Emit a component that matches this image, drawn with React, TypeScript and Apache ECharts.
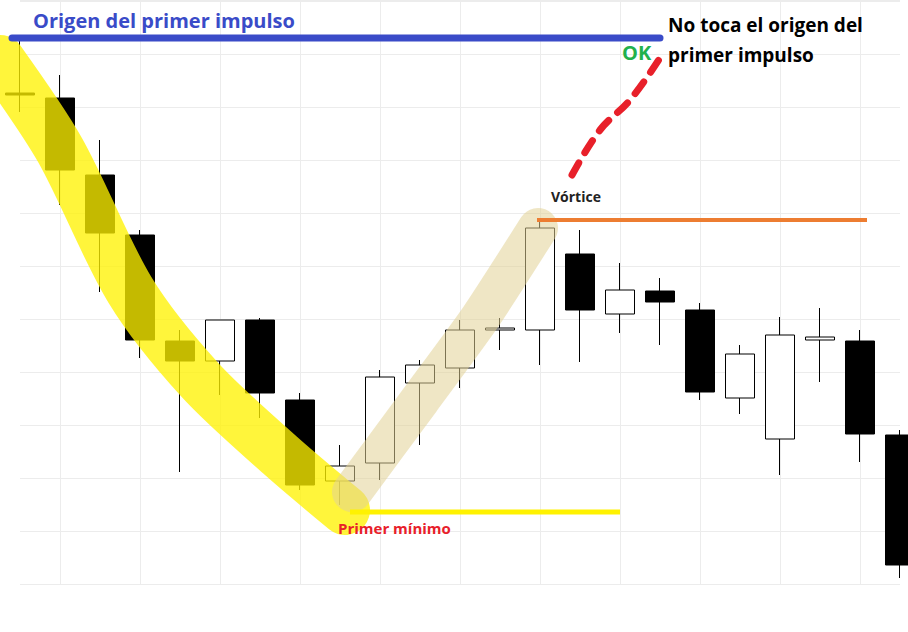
import React, { useEffect, useRef } from 'react';
import * as echarts from 'echarts';

// 23 candles, values on an arbitrary price scale (one grid step = 53)
const candleIndex = Array.from({ length: 23 }, (_, i) => String(i + 1));
// [open, close, low, high]
const candles: number[][] = [
  [491, 489, 472, 544],
  [486, 414, 379, 509],
  [409, 351, 292, 444],
  [349, 244, 226, 354],
  [243, 223, 112, 254],
  [223, 264, 189, 264],
  [264, 191, 166, 266],
  [184, 99, 94, 191],
  [103, 118, 79, 139],
  [121, 207, 104, 214],
  [201, 219, 139, 224],
  [216, 254, 196, 264],
  [254, 256, 234, 266],
  [254, 356, 219, 364],
  [330, 274, 222, 354],
  [270, 294, 251, 321],
  [293, 282, 239, 306],
  [274, 192, 184, 281],
  [186, 230, 170, 239],
  [145, 249, 109, 267],
  [244, 247, 202, 276],
  [243, 150, 122, 254],
  [149, 19, 6, 154],
];

const yellowBand = [[0, 60], [60, 150], [130, 290], [200, 380], [280, 455], [345, 510]];
const beigeBand = [[352, 492], [420, 400], [480, 318], [538, 228]];
const redDash = [[572, 175], [600, 130], [630, 100], [660, 58]];

const App: React.FC = () => {
  const chartRef = useRef<HTMLDivElement | null>(null);

  useEffect(() => {
    if (!chartRef.current) return;
    const chart = echarts.init(chartRef.current, undefined, { renderer: 'svg' });
    chart.setOption({
      animation: false,
      grid: { left: 20, right: 8, top: 0, bottom: 48 },
      xAxis: {
        type: 'category',
        data: candleIndex,
        boundaryGap: false,
        axisLabel: { show: false },
        axisTick: { show: false },
        axisLine: { show: false },
        splitLine: { show: true, interval: (i: number) => i % 2 === 1, lineStyle: { color: '#ececec' } },
      },
      yAxis: {
        type: 'value',
        min: 0,
        max: 584,
        interval: 53,
        axisLabel: { show: false },
        axisLine: { show: false },
        axisTick: { show: false },
        splitLine: { lineStyle: { color: '#ececec' } },
      },
      series: [
        {
          type: 'candlestick',
          data: candles,
          barWidth: 30,
          itemStyle: {
            color: '#ffffff',
            color0: '#000000',
            borderColor: '#000000',
            borderColor0: '#000000',
            borderWidth: 1,
          },
        },
      ],
      graphic: [
        {
          type: 'polyline', z: 100, silent: true,
          shape: { points: yellowBand, smooth: 0.3 },
          style: { stroke: 'rgba(255,242,0,0.77)', lineWidth: 50, lineCap: 'round', fill: 'none' },
        },
        {
          type: 'polyline', z: 100, silent: true,
          shape: { points: beigeBand, smooth: 0.2 },
          style: { stroke: 'rgba(225,210,150,0.55)', lineWidth: 40, lineCap: 'round', fill: 'none' },
        },
        {
          type: 'line', z: 101, shape: { x1: 12, y1: 38, x2: 660, y2: 38 },
          style: { stroke: '#3a4bc8', lineWidth: 7, lineCap: 'round' },
        },
        {
          type: 'text', z: 101, x: 33, y: 10,
          style: { text: 'Origen del primer impulso', fill: '#3a4bc8', font: 'bold 20px "Open Sans", sans-serif' },
        },
        {
          type: 'text', z: 101, x: 668, y: 10,
          style: { text: 'No toca el origen del\nprimer impulso', fill: '#000', lineHeight: 30, font: 'bold 19px "Open Sans", sans-serif' },
        },
        {
          type: 'text', z: 101, x: 622, y: 42,
          style: { text: 'OK', fill: '#22b14c', font: 'bold 20px "Open Sans", sans-serif' },
        },
        {
          type: 'polyline', z: 101,
          shape: { points: redDash, smooth: 0.4 },
          style: { stroke: '#e8202a', lineWidth: 7, lineDash: [14, 12], lineCap: 'round', fill: 'none' },
        },
        {
          type: 'text', z: 101, x: 551, y: 189,
          style: { text: 'Vórtice', fill: '#222', font: 'bold 14px "Open Sans", sans-serif' },
        },
        {
          type: 'line', z: 101, shape: { x1: 537, y1: 220, x2: 867, y2: 220 },
          style: { stroke: '#ed7d31', lineWidth: 4 },
        },
        {
          type: 'line', z: 101, shape: { x1: 350, y1: 512, x2: 620, y2: 512 },
          style: { stroke: '#fff200', lineWidth: 5 },
        },
        {
          type: 'text', z: 101, x: 338, y: 520,
          style: { text: 'Primer mínimo', fill: '#e8202a', font: 'bold 15px "Open Sans", sans-serif' },
        },
      ],
    });
    return () => chart.dispose();
  }, []);

  return (
    <div
      ref={chartRef}
      style={{ position: 'fixed', left: 0, top: 0, width: 908, height: 632, background: '#fff' }}
    />
  );
};

export default App;
